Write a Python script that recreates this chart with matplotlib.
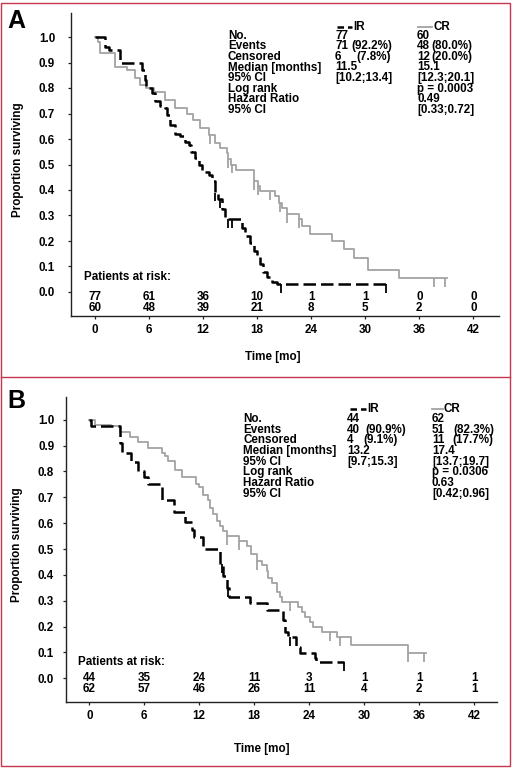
import numpy as np
import matplotlib
matplotlib.use('Agg')
import matplotlib.pyplot as plt
from matplotlib import transforms
from matplotlib.lines import Line2D
from matplotlib.patches import Rectangle

plt.rcParams['font.family'] = ['Liberation Sans', 'DejaVu Sans']

# ---------------- data ----------------
months = [0, 6, 12, 18, 24, 30, 36, 42]
yticks = [0.0, 0.1, 0.2, 0.3, 0.4, 0.5, 0.6, 0.7, 0.8, 0.9, 1.0]

# Panel A
ir_a_t = [0, 1.1, 1.6, 2.8, 5.2, 5.5, 5.7, 6.3, 6.7, 7.2, 7.8, 8.0, 8.3, 8.9, 9.4, 10.0,
          10.4, 10.7, 11.1, 11.5, 11.9, 12.6, 13.0, 13.3, 13.7, 14.1, 14.4, 16.3, 16.7,
          17.2, 17.6, 18.0, 18.3, 18.7, 19.1, 19.6, 20.2]
ir_a_s = [1.0, 0.96, 0.95, 0.90, 0.87, 0.83, 0.80, 0.78, 0.75, 0.73, 0.72, 0.695, 0.656,
          0.62, 0.61, 0.59, 0.578, 0.55, 0.526, 0.50, 0.47, 0.46, 0.435, 0.39, 0.363,
          0.324, 0.285, 0.25, 0.22, 0.194, 0.16, 0.14, 0.11, 0.077, 0.057, 0.038, 0.03]
ir_a_end = 32.3
ir_a_cens = [13.3, 13.9, 14.8, 15.2, 20.6, 32.3]

cr_a_t = [0, 0.3, 0.6, 2.2, 3.5, 4.4, 5.0, 5.7, 6.5, 7.8, 8.9, 10.2, 10.9, 11.7, 12.6,
          13.3, 13.9, 14.6, 14.8, 15.1, 15.6, 17.6, 18.1, 18.3, 20.0, 20.4, 20.8, 21.3,
          22.6, 23.0, 23.9, 26.3, 27.6, 28.7, 30.3, 33.7]
cr_a_s = [1.0, 0.98, 0.936, 0.884, 0.871, 0.84, 0.8125, 0.80, 0.786, 0.754, 0.72, 0.70,
          0.676, 0.645, 0.617, 0.585, 0.565, 0.545, 0.52, 0.50, 0.48, 0.435, 0.415,
          0.396, 0.376, 0.35, 0.33, 0.305, 0.285, 0.26, 0.227, 0.2, 0.168, 0.135, 0.087,
          0.055]
cr_a_end = 39.1
cr_a_cens = [12.8, 14.8, 15.2, 17.6, 18.1, 19.4, 20.5, 21.3, 22.6, 37.6, 38.9]

risk_a_ir = [77, 61, 36, 10, 1, 1, 0, 0]
risk_a_cr = [60, 48, 39, 21, 8, 5, 2, 0]

# Panel B
ir_b_t = [0, 0.15, 3.35, 3.6, 4.6, 5.35, 6.0, 6.4, 7.9, 9.2, 10.45, 11.2, 11.4, 12.45,
          14.3, 14.6, 15.0, 15.2, 17.5, 19.4, 21.2, 21.4, 21.7, 22.6, 23.0, 24.6, 24.8]
ir_b_s = [1.0, 0.977, 0.91, 0.87, 0.837, 0.80, 0.78, 0.75, 0.688, 0.643, 0.604, 0.572,
          0.545, 0.50, 0.442, 0.396, 0.35, 0.316, 0.29, 0.264, 0.225, 0.18, 0.16, 0.122,
          0.097, 0.077, 0.064]
ir_b_end = 27.8
ir_b_cens = [14.45, 15.1, 21.9, 27.8]

cr_b_t = [0, 0.6, 2.4, 3.35, 4.4, 5.35, 6.4, 7.9, 8.3, 8.6, 9.35, 10.1, 11.7, 12.0,
          12.45, 13.0, 13.2, 13.5, 13.9, 14.3, 14.6, 15.0, 16.3, 17.2, 17.7, 18.3, 18.8,
          19.4, 19.55, 19.9, 20.45, 20.8, 21.0, 22.8, 23.2, 23.55, 24.1, 24.45, 25.4,
          27.0, 28.6, 34.8]
cr_b_s = [1.0, 0.98, 0.975, 0.953, 0.934, 0.915, 0.89, 0.87, 0.86, 0.84, 0.805, 0.778,
          0.75, 0.74, 0.71, 0.69, 0.66, 0.635, 0.61, 0.59, 0.57, 0.55, 0.53, 0.513, 0.48,
          0.455, 0.44, 0.416, 0.386, 0.367, 0.335, 0.315, 0.296, 0.277, 0.257, 0.238,
          0.219, 0.2, 0.18, 0.16, 0.129, 0.097]
cr_b_end = 36.8
cr_b_cens = [15.0, 16.3, 18.3, 21.9, 26.3, 27.4, 34.8, 36.5]

risk_b_ir = [44, 35, 24, 11, 3, 1, 1, 1]
risk_b_cr = [62, 57, 46, 26, 11, 4, 2, 1]

stat_labels = ['No.', 'Events', 'Censored', 'Median [months]', '95% CI', 'Log rank',
               'Hazard Ratio', '95% CI']
ir_a_vals = ['77', '71', '6', '11.5', '[10.2;13.4]']
ir_a_pct = ['', '(92.2%)', '(7.8%)']
cr_a_vals = ['60', '48', '12', '15.1', '[12.3;20.1]', 'p = 0.0003', '0.49', '[0.33;0.72]']
cr_a_pct = ['', '(80.0%)', '(20.0%)']
ir_b_vals = ['44', '40', '4', '13.2', '[9.7;15.3]']
ir_b_pct = ['', '(90.9%)', '(9.1%)']
cr_b_vals = ['62', '51', '11', '17.4', '[13.7;19.7]', 'p = 0.0306', '0.63', '[0.42;0.96]']
cr_b_pct = ['', '(82.3%)', '(17.7%)']

# ---------------- figure ----------------
W, H = 512, 768
fig = plt.figure(figsize=(W / 100, H / 100), dpi=100)
FS = 8.4
GRAY = '#a3a3a3'
RED = '#c8364e'


def fx(x):
    return x / W


def fy(y):
    return 1 - y / H


def ftext(x, y, s, **kw):
    kw.setdefault('fontsize', FS)
    kw.setdefault('fontweight', 'bold')
    kw.setdefault('va', 'center')
    kw.setdefault('ha', 'left')
    fig.text(fx(x), fy(y), s, **kw)


def level(t, s, ct):
    t = np.asarray(t)
    s = np.asarray(s)
    idx = np.searchsorted(t, ct, side='right') - 1
    return s[idx]


def panel(box, x0px, pxmo, y1px, y0px, ir, cr, cens_ir, cens_cr, risk_ir, risk_cr,
          risk_rows, patients_xy, tlabel_xy, ylabel_xy, letter, letter_xy, ypad):
    left, right, top, bottom = box
    ax = fig.add_axes([fx(left), fy(bottom), (right - left) / W, (bottom - top) / H])
    ppu = (y0px - y1px)  # pixels per unit
    ax.set_xlim((left - x0px) / pxmo, (right - x0px) / pxmo)
    ax.set_ylim((y0px - bottom) / ppu, (y0px - top) / ppu)
    for sp in ['top', 'right']:
        ax.spines[sp].set_visible(False)
    for sp in ['left', 'bottom']:
        ax.spines[sp].set_linewidth(1.0)
        ax.spines[sp].set_color('#222222')
    ax.set_xticks(months)
    ax.set_xticklabels([str(m) for m in months], fontsize=FS, fontweight='bold')
    ax.set_yticks(yticks)
    ax.set_yticklabels(['%.1f' % v for v in yticks], fontsize=FS, fontweight='bold')
    ax.tick_params(axis='both', direction='out', length=2.5, width=0.9, color='#222222')
    ax.tick_params(axis='y', pad=ypad)
    ax.tick_params(axis='x', pad=3.0)

    # curves
    t, s, te = cr
    ax.step(np.r_[t, te], np.r_[s, s[-1]], where='post', color=GRAY, lw=1.3, zorder=2)
    lv = level(t, s, cens_cr)
    ax.vlines(cens_cr, lv - 0.035, lv, colors=GRAY, lw=1.3, zorder=2)
    t, s, te = ir
    ax.step(np.r_[t, te], np.r_[s, s[-1]], where='post', color='black', lw=1.8,
            linestyle=(0, (5, 2)), zorder=3)
    lv = level(t, s, cens_ir)
    ax.vlines(cens_ir, lv - 0.035, lv, colors='black', lw=1.3, zorder=3)

    # patients at risk
    tr = transforms.blended_transform_factory(ax.transData, fig.transFigure)
    for m, a, b in zip(months, risk_ir, risk_cr):
        ax.text(m, fy(risk_rows[0]), str(a), transform=tr, ha='center', va='center',
                fontsize=FS, fontweight='bold')
        ax.text(m, fy(risk_rows[1]), str(b), transform=tr, ha='center', va='center',
                fontsize=FS, fontweight='bold')
    ftext(patients_xy[0], patients_xy[1], 'Patients at risk:')
    ftext(tlabel_xy[0], tlabel_xy[1], 'Time [mo]', ha='center')
    ftext(ylabel_xy[0], ylabel_xy[1], 'Proportion surviving', ha='center', rotation=90)
    ftext(letter_xy[0], letter_xy[1], letter, ha='center', fontsize=18)
    return ax


def stats(lab_x, ir_x, ir_px, cr_x, cr_px, head_y, row0, dy, irv, irp, crv, crp,
          ir_leg, cr_leg):
    for i, lab in enumerate(stat_labels):
        y = row0 + dy * i
        ftext(lab_x, y, lab)
        if i < len(irv):
            ftext(ir_x, y, irv[i])
        if i < len(crv):
            ftext(cr_x, y, crv[i])
        if 0 < i < len(irp):
            ftext(ir_px[i], y, irp[i])
            ftext(cr_px[i], y, crp[i])
    # legend headers
    x1, x2 = ir_leg
    fig.add_artist(Line2D([fx(x1), fx(x2)], [fy(head_y), fy(head_y)], color='black',
                          lw=1.8, linestyle=(0, (2.6, 1.6)), transform=fig.transFigure))
    ftext(x2 + 1, head_y, 'IR')
    x1, x2 = cr_leg
    fig.add_artist(Line2D([fx(x1), fx(x2)], [fy(head_y), fy(head_y)], color=GRAY,
                          lw=1.3, transform=fig.transFigure))
    ftext(x2 + 1, head_y, 'CR')


# Panel A
panel((71, 499, 13, 316), 95, 9.008, 37, 292,
      (ir_a_t, ir_a_s, ir_a_end), (cr_a_t, cr_a_s, cr_a_end), ir_a_cens, cr_a_cens,
      risk_a_ir, risk_a_cr, (296.7, 307.7), (84, 276.7), (272.5, 356.7), (18, 160),
      'A', (16.5, 21), 9)
stats(228, 335, [0, 351, 356], 417, [0, 431, 431], 26.7, 35.7, 10.6,
      ir_a_vals, ir_a_pct, cr_a_vals, cr_a_pct, (337, 352), (418, 432))

# Panel B
panel((66, 497, 397, 702), 89.3, 9.16, 419.7, 678.3,
      (ir_b_t, ir_b_s, ir_b_end), (cr_b_t, cr_b_s, cr_b_end), ir_b_cens, cr_b_cens,
      risk_b_ir, risk_b_cr, (678.3, 689.3), (78, 661.7), (261.7, 749), (17, 545),
      'B', (16.5, 400.5), 6)
stats(243, 347, [0, 365, 363], 432, [0, 453, 452], 409, 419, 10.7,
      ir_b_vals, ir_b_pct, cr_b_vals, cr_b_pct, (350, 366), (432, 443))

# red frame
fig.add_artist(Rectangle((fx(1), fy(766)), 509 / W, 763 / H, fill=False, ec=RED, lw=1.0,
                         transform=fig.transFigure))
fig.add_artist(Line2D([fx(1), fx(510)], [fy(376.7), fy(376.7)], color=RED, lw=1.0,
                      transform=fig.transFigure))

fig.savefig('out.png', dpi=100)
